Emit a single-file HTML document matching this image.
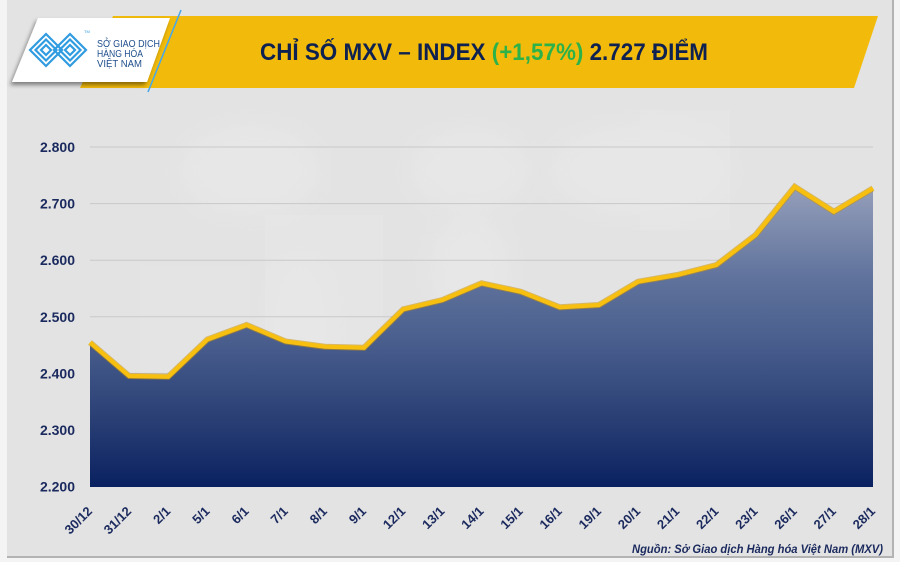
<!DOCTYPE html>
<html><head><meta charset="utf-8">
<style>
html,body{margin:0;padding:0;background:#f4f4f4;}
svg{display:block;}
text{font-family:"Liberation Sans",sans-serif;}
</style></head>
<body>
<svg width="900" height="562" viewBox="0 0 900 562" xmlns="http://www.w3.org/2000/svg">
<defs>
<linearGradient id="area" x1="0" y1="186" x2="0" y2="487" gradientUnits="userSpaceOnUse">
<stop offset="0" stop-color="#959fba"/>
<stop offset="0.31" stop-color="#5f729c"/>
<stop offset="0.51" stop-color="#4a5f8e"/>
<stop offset="0.77" stop-color="#2a4075"/>
<stop offset="1" stop-color="#0a2161"/>
</linearGradient>
<filter id="blur" x="-20%" y="-20%" width="140%" height="140%"><feGaussianBlur stdDeviation="10"/></filter>
<filter id="sh" x="-10%" y="-10%" width="130%" height="140%"><feDropShadow dx="-2" dy="3" stdDeviation="2" flood-color="#000" flood-opacity="0.45"/></filter>
</defs>
<rect x="0" y="0" width="900" height="562" fill="#f4f4f4"/>
<rect x="7" y="0" width="886" height="557" fill="#e3e3e3"/>
<rect x="892" y="0" width="2" height="558" fill="#b3b3b3"/>
<rect x="7" y="556" width="887" height="2" fill="#b3b3b3"/>
<!-- faint map -->
<g filter="url(#blur)" fill="#ececec" opacity="0.45">
<ellipse cx="250" cy="170" rx="70" ry="45"/>
<ellipse cx="300" cy="330" rx="30" ry="70"/>
<ellipse cx="470" cy="170" rx="60" ry="40"/>
<ellipse cx="470" cy="270" rx="40" ry="55"/>
<ellipse cx="640" cy="170" rx="90" ry="45"/>
<ellipse cx="760" cy="290" rx="35" ry="25"/>
</g>
<rect x="140" y="265" width="110" height="120" fill="#e7e7e7" opacity="0.4"/>
<rect x="265" y="215" width="118" height="140" fill="#e9e9e9" opacity="0.4"/>
<rect x="640" y="110" width="90" height="120" fill="#e8e8e8" opacity="0.4"/>

<!-- banner -->
<polygon points="113,16 878,16 854,88 80,88" fill="#f2bb0b"/>
<polygon points="38,18 170,18 147,82 12,82" fill="#ffffff" filter="url(#sh)"/>
<line x1="181" y1="10" x2="148" y2="92" stroke="#4aa8e8" stroke-width="1.6"/>
<!-- logo icon -->
<g fill="none" stroke="#2f9be0" stroke-width="2.2">
<polygon points="46,34 62,50 46,66 30,50"/>
<polygon points="46,39.5 56.5,50 46,60.5 35.5,50"/>
<polygon points="46,45 51,50 46,55 41,50"/>
<polygon points="70,34 86,50 70,66 54,50"/>
<polygon points="70,39.5 80.5,50 70,60.5 59.5,50"/>
<polygon points="70,45 75,50 70,55 65,50"/>
</g>
<text x="84" y="33" font-size="4" fill="#2f9be0">TM</text>
<g fill="#1f4e8c" font-size="10">
<text x="97" y="47" textLength="63" lengthAdjust="spacingAndGlyphs">SỞ GIAO DỊCH</text>
<text x="97" y="57" textLength="46" lengthAdjust="spacingAndGlyphs">HÀNG HÓA</text>
<text x="97" y="67" textLength="45" lengthAdjust="spacingAndGlyphs">VIỆT NAM</text>
</g>
<!-- title -->
<text x="260" y="60" font-size="24" font-weight="bold" fill="#0e2150" textLength="448" lengthAdjust="spacingAndGlyphs">CHỈ SỐ MXV – INDEX <tspan fill="#2db24a">(+1,57%)</tspan> 2.727 ĐIỂM</text>

<!-- gridlines -->
<g stroke="#c9c9c9" stroke-width="1">
<line x1="90" y1="147" x2="873" y2="147"/>
<line x1="90" y1="203.6" x2="873" y2="203.6"/>
<line x1="90" y1="260.2" x2="873" y2="260.2"/>
<line x1="90" y1="316.8" x2="873" y2="316.8"/>
<line x1="90" y1="373.4" x2="873" y2="373.4"/>
<line x1="90" y1="430" x2="873" y2="430"/>
</g>
<!-- y labels -->
<g font-size="14" font-weight="bold" fill="#1b2a5e" text-anchor="end">
<text x="75" y="152">2.800</text>
<text x="75" y="208.6">2.700</text>
<text x="75" y="265.2">2.600</text>
<text x="75" y="321.8">2.500</text>
<text x="75" y="378.4">2.400</text>
<text x="75" y="435">2.300</text>
<text x="75" y="491.6">2.200</text>
</g>
<!-- area -->
<polygon fill="url(#area)" points="90,487 90,342.5 129.15,376 168.3,376.7 207.45,339.5 246.6,325 285.75,341.5 324.9,346.7 364.05,347.7 403.2,309.3 442.35,300 481.5,283.3 520.65,291.7 559.8,307.3 598.95,305 638.1,281.7 677.25,275 716.4,265 755.55,235 794.7,186.7 833.85,211.7 873,188.3 873,487"/>
<polyline fill="none" stroke="#c8920a" stroke-width="6" stroke-linejoin="miter" opacity="0.55" points="90,342.5 129.15,376 168.3,376.7 207.45,339.5 246.6,325 285.75,341.5 324.9,346.7 364.05,347.7 403.2,309.3 442.35,300 481.5,283.3 520.65,291.7 559.8,307.3 598.95,305 638.1,281.7 677.25,275 716.4,265 755.55,235 794.7,186.7 833.85,211.7 873,188.3"/>
<polyline fill="none" stroke="#f7c010" stroke-width="4.2" stroke-linejoin="miter" points="90,342.5 129.15,376 168.3,376.7 207.45,339.5 246.6,325 285.75,341.5 324.9,346.7 364.05,347.7 403.2,309.3 442.35,300 481.5,283.3 520.65,291.7 559.8,307.3 598.95,305 638.1,281.7 677.25,275 716.4,265 755.55,235 794.7,186.7 833.85,211.7 873,188.3"/>

<!-- x labels -->
<g font-size="13" font-weight="bold" fill="#1b2a5e" text-anchor="end">
<text transform="translate(93,512) rotate(-45)">30/12</text>
<text transform="translate(132.15,512) rotate(-45)">31/12</text>
<text transform="translate(171.3,512) rotate(-45)">2/1</text>
<text transform="translate(210.45,512) rotate(-45)">5/1</text>
<text transform="translate(249.6,512) rotate(-45)">6/1</text>
<text transform="translate(288.75,512) rotate(-45)">7/1</text>
<text transform="translate(327.9,512) rotate(-45)">8/1</text>
<text transform="translate(367.05,512) rotate(-45)">9/1</text>
<text transform="translate(406.2,512) rotate(-45)">12/1</text>
<text transform="translate(445.35,512) rotate(-45)">13/1</text>
<text transform="translate(484.5,512) rotate(-45)">14/1</text>
<text transform="translate(523.65,512) rotate(-45)">15/1</text>
<text transform="translate(562.8,512) rotate(-45)">16/1</text>
<text transform="translate(601.95,512) rotate(-45)">19/1</text>
<text transform="translate(641.1,512) rotate(-45)">20/1</text>
<text transform="translate(680.25,512) rotate(-45)">21/1</text>
<text transform="translate(719.4,512) rotate(-45)">22/1</text>
<text transform="translate(758.55,512) rotate(-45)">23/1</text>
<text transform="translate(797.7,512) rotate(-45)">26/1</text>
<text transform="translate(836.85,512) rotate(-45)">27/1</text>
<text transform="translate(876,512) rotate(-45)">28/1</text>
</g>
<text x="883" y="553" font-size="12" font-weight="bold" font-style="italic" fill="#1b2a5e" text-anchor="end" textLength="251" lengthAdjust="spacingAndGlyphs">Nguồn: Sở Giao dịch Hàng hóa Việt Nam (MXV)</text>
</svg>
</body></html>
